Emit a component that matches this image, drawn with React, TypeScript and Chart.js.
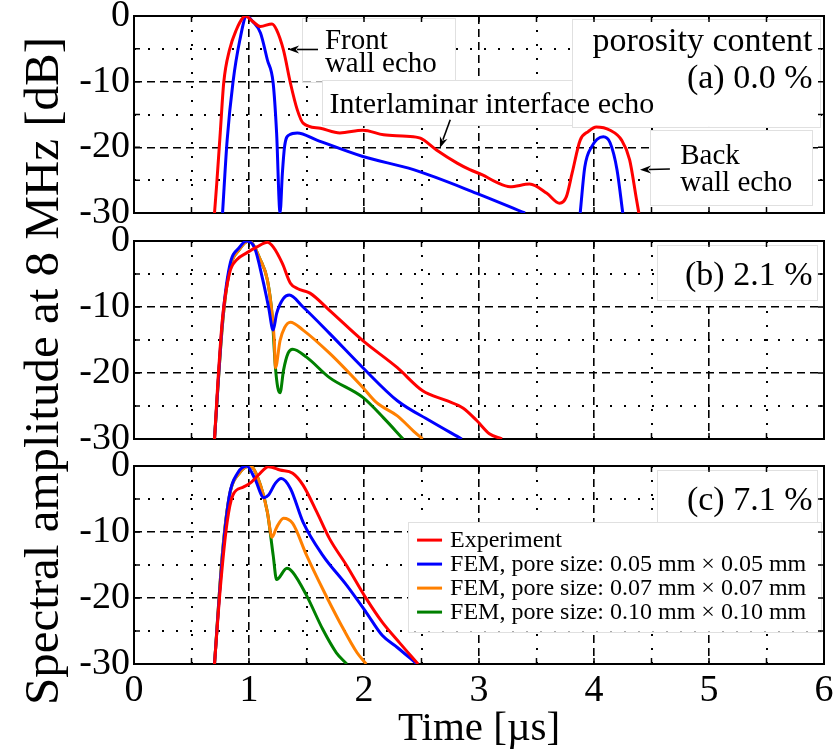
import React, { useEffect, useRef } from 'react';
import { Chart, registerables } from 'chart.js';

Chart.register(...registerables);

const SERIF = '"Liberation Serif", "Times New Roman", Times, serif';

// ---- axes ----
const timeMajor = [0, 1, 2, 3, 4, 5, 6];
const timeMinor = [0.5, 1.5, 2.5, 3.5, 4.5, 5.5];
const dbMajor = [-30, -20, -10, 0];
const dbMinor = [-25, -15, -5];
const xTitle = 'Time [µs]';
const yTitle = 'Spectral amplitude at 8 MHz [dB]';

// ---- series ----
const seriesLabels = [
  'Experiment',
  'FEM, pore size: 0.05 mm × 0.05 mm',
  'FEM, pore size: 0.07 mm × 0.07 mm',
  'FEM, pore size: 0.10 mm × 0.10 mm',
];
const seriesColors = ['#ff0000', '#0000ff', '#ff8000', '#008000'];
const panelLabels = ['(a) 0.0 %', '(b) 2.1 %', '(c) 7.1 %'];

// panel (a) 0.0 %
const aExpT = [0.70, 0.72, 0.75, 0.78, 0.83, 0.89, 0.95, 0.97, 1.03, 1.10, 1.20, 1.24, 1.30, 1.36, 1.42, 1.47, 1.62, 1.79, 1.99, 2.17, 2.37, 2.49, 2.63, 2.81, 2.92, 3.03, 3.15, 3.27, 3.44, 3.59, 3.70, 3.76, 3.81, 3.88, 3.95, 4.02, 4.14, 4.24, 4.31, 4.37, 4.39];
const aExpDb = [-30, -25.4, -17.8, -10.2, -5.2, -2.1, -0.2, 0, -0.8, -1.6, -1.2, -2.1, -5.2, -10.2, -14.3, -16.3, -17.1, -17.8, -17.4, -18.1, -18.3, -18.6, -20.4, -22.4, -23.4, -24.2, -25.3, -26.0, -25.6, -27.0, -28.5, -27.5, -23.9, -18.9, -17.6, -16.9, -17.4, -18.9, -21.9, -28.0, -30];
const aFem05T = [0.77, 0.81, 0.86, 0.92, 0.98, 1.03, 1.10, 1.16, 1.21, 1.24, 1.27, 1.29, 1.31, 1.35, 1.42, 1.59, 1.99, 2.43, 2.98, 3.40, 3.64, 3.88, 3.92, 3.98, 4.08, 4.14, 4.20, 4.25];
const aFem05Db = [-30, -18.9, -10.2, -3.7, 0, -0.8, -2.6, -6.7, -10.2, -17.8, -30, -24.0, -19.8, -18.1, -17.8, -18.9, -21.4, -23.4, -27.0, -30, null, -30, -23.0, -19.9, -18.4, -19.3, -23.4, -30];

// panel (b) 2.1 %
const bExpT = [0.70, 0.73, 0.77, 0.83, 0.89, 0.98, 1.07, 1.16, 1.21, 1.29, 1.36, 1.42, 1.53, 1.70, 1.99, 2.29, 2.51, 2.72, 2.86, 2.98, 3.09, 3.20];
const bExpDb = [-30, -21.2, -11.6, -4.9, -2.9, -1.8, -0.9, -0.2, -0.9, -3.4, -6.4, -7.2, -7.9, -10.5, -15.1, -19.2, -22.7, -24.2, -25.3, -27.2, -29.2, -30];
const bFem05T = [0.70, 0.77, 0.83, 0.92, 0.98, 1.05, 1.12, 1.17, 1.21, 1.24, 1.30, 1.35, 1.47, 1.70, 1.99, 2.29, 2.57, 2.85];
const bFem05Db = [-30, -12.0, -3.9, -0.9, 0, -1.1, -5.9, -10.0, -13.5, -11.0, -8.7, -8.2, -10.0, -14.0, -19.2, -24.2, -27.2, -30];
const bFem07T = [0.70, 0.77, 0.83, 0.92, 1.00, 1.10, 1.16, 1.20, 1.22, 1.23, 1.27, 1.31, 1.36, 1.47, 1.70, 1.99, 2.11, 2.29, 2.43, 2.51];
const bFem07Db = [-30, -12.5, -4.5, -1.2, 0, -2.9, -5.9, -11.0, -15.1, -19.2, -15.1, -13.1, -12.3, -13.5, -17.0, -22.2, -24.5, -26.5, -28.8, -30];
const bFem10T = [0.70, 0.77, 0.83, 0.92, 1.00, 1.10, 1.16, 1.20, 1.23, 1.25, 1.27, 1.30, 1.34, 1.38, 1.50, 1.70, 1.99, 2.17, 2.34];
const bFem10Db = [-30, -12.5, -4.5, -1.2, 0, -2.9, -5.9, -11.0, -19.2, -22.2, -23.0, -19.6, -17.0, -16.4, -17.6, -20.7, -23.7, -26.8, -30];

// panel (c) 7.1 %
const cExpT = [0.70, 0.75, 0.81, 0.86, 0.95, 1.01, 1.08, 1.17, 1.27, 1.38, 1.47, 1.59, 1.70, 1.85, 2.02, 2.16, 2.31, 2.47];
const cExpDb = [-30, -18.6, -8.5, -4.4, -3.2, -2.6, -1.4, -0.1, -0.6, -1.1, -2.9, -7.0, -11.0, -15.1, -20.1, -23.7, -26.8, -30];
const cFem05T = [0.70, 0.77, 0.83, 0.90, 0.98, 1.05, 1.13, 1.17, 1.23, 1.28, 1.36, 1.47, 1.64, 1.85, 2.02, 2.16, 2.29, 2.46];
const cFem05Db = [-30, -13.5, -4.4, -1.1, 0, -1.9, -4.8, -4.4, -2.6, -1.9, -3.4, -8.5, -13.5, -18.1, -22.2, -25.7, -27.5, -30];
const cFem07T = [0.70, 0.77, 0.83, 0.92, 1.01, 1.10, 1.16, 1.20, 1.24, 1.30, 1.38, 1.50, 1.64, 1.79, 1.94, 2.02];
const cFem07Db = [-30, -13.0, -4.5, -1.0, 0, -2.9, -7.0, -10.8, -9.3, -7.9, -8.7, -13.5, -18.6, -23.7, -28.3, -30];
const cFem10T = [0.70, 0.77, 0.83, 0.92, 1.01, 1.10, 1.16, 1.21, 1.24, 1.33, 1.38, 1.50, 1.64, 1.76, 1.85];
const cFem10Db = [-30, -13.0, -4.5, -1.0, 0, -2.9, -7.0, -13.5, -17.2, -15.5, -16.1, -19.6, -24.7, -28.3, -30];

// ---- decorations (in data units of each panel) ----
type Box = { t0: number; t1: number; d0: number; d1: number };
type Txt = { s: string; t: number; d: number; size: number; align: 'left' | 'right' };
type Arrow = { t0: number; d0: number; t1: number; d1: number };

type PanelCfg = {
  key: string;
  top: number;
  bottom: number;
  series: { t: number[]; db: (number | null)[]; k: number }[];
  boxes: Box[];
  texts: Txt[];
  arrows: Arrow[];
  legend?: Box;
  xLabels: boolean;
  yTitle: boolean;
};

const panels: PanelCfg[] = [
  {
    key: 'a', top: 16, bottom: 213,
    series: [{ t: aExpT, db: aExpDb, k: 0 }, { t: aFem05T, db: aFem05Db, k: 1 }],
    boxes: [
      { t0: 1.46, t1: 2.79, d0: -0.3, d1: -10.0 },
      { t0: 1.635, t1: 4.59, d0: -9.75, d1: -16.6 },
      { t0: 3.81, t1: 5.965, d0: -0.45, d1: -16.9 },
      { t0: 4.49, t1: 5.9, d0: -17.4, d1: -28.8 },
    ],
    texts: [
      { s: 'Front', t: 1.66, d: -5.0, size: 29, align: 'left' },
      { s: 'wall echo', t: 1.66, d: -8.6, size: 29, align: 'left' },
      { s: 'Interlaminar interface echo', t: 1.70, d: -14.7, size: 30, align: 'left' },
      { s: 'porosity content', t: 5.9, d: -5.4, size: 34, align: 'right' },
      { s: panelLabels[0], t: 5.9, d: -10.9, size: 34, align: 'right' },
      { s: 'Back', t: 4.75, d: -22.6, size: 29, align: 'left' },
      { s: 'wall echo', t: 4.75, d: -26.7, size: 29, align: 'left' },
    ],
    arrows: [
      { t0: 1.60, d0: -5.1, t1: 1.34, d1: -5.1 },
      { t0: 2.75, d0: -15.8, t1: 2.66, d1: -20.1 },
      { t0: 4.66, d0: -23.3, t1: 4.40, d1: -23.4 },
    ],
    xLabels: false, yTitle: true,
  },
  {
    key: 'b', top: 241, bottom: 439,
    series: [
      { t: bExpT, db: bExpDb, k: 0 }, { t: bFem05T, db: bFem05Db, k: 1 },
      { t: bFem07T, db: bFem07Db, k: 2 }, { t: bFem10T, db: bFem10Db, k: 3 },
    ],
    boxes: [{ t0: 4.55, t1: 5.94, d0: -0.6, d1: -9.0 }],
    texts: [{ s: panelLabels[1], t: 5.9, d: -6.7, size: 34, align: 'right' }],
    arrows: [],
    xLabels: false, yTitle: false,
  },
  {
    key: 'c', top: 466, bottom: 664,
    series: [
      { t: cExpT, db: cExpDb, k: 0 }, { t: cFem05T, db: cFem05Db, k: 1 },
      { t: cFem07T, db: cFem07Db, k: 2 }, { t: cFem10T, db: cFem10Db, k: 3 },
    ],
    boxes: [{ t0: 4.55, t1: 5.94, d0: -0.6, d1: -9.0 }],
    texts: [{ s: panelLabels[2], t: 5.9, d: -6.7, size: 34, align: 'right' }],
    arrows: [],
    legend: { t0: 2.383, t1: 5.97, d0: -8.5, d1: -25.1 },
    xLabels: true, yTitle: false,
  },
];

const W = 840;
const H = 756;
const LEFT = 134;
const RIGHT_PAD = 16;

function makeDecor(p: PanelCfg) {
  return {
    id: 'decor_' + p.key,
    beforeDatasetsDraw(chart: any) {
      const { ctx, chartArea: a, scales } = chart;
      const X = (t: number) => scales.x.getPixelForValue(t);
      const Y = (d: number) => scales.y.getPixelForValue(d);
      ctx.save();
      ctx.setLineDash([]);
      // white label boxes
      const allBoxes = p.legend ? [...p.boxes, p.legend] : p.boxes;
      for (const b of allBoxes) {
        const x0 = X(b.t0), x1 = X(b.t1), y0 = Y(b.d0), y1 = Y(b.d1);
        ctx.fillStyle = '#ffffff';
        ctx.fillRect(x0, y0, x1 - x0, y1 - y0);
        ctx.strokeStyle = '#e0e0e0';
        ctx.lineWidth = 1;
        ctx.strokeRect(Math.round(x0) + 0.5, Math.round(y0) + 0.5, Math.round(x1 - x0), Math.round(y1 - y0));
      }
      // frame
      ctx.strokeStyle = '#000';
      ctx.lineWidth = 2;
      ctx.strokeRect(a.left, a.top, a.right - a.left, a.bottom - a.top);
      // inner ticks
      ctx.lineWidth = 1.5;
      ctx.beginPath();
      for (const t of [...timeMajor, ...timeMinor]) {
        const x = X(t);
        ctx.moveTo(x, a.bottom); ctx.lineTo(x, a.bottom - 6);
        ctx.moveTo(x, a.top); ctx.lineTo(x, a.top + 6);
      }
      for (const d of [...dbMajor, ...dbMinor]) {
        const y = Y(d);
        ctx.moveTo(a.left, y); ctx.lineTo(a.left + 6, y);
        ctx.moveTo(a.right, y); ctx.lineTo(a.right - 6, y);
      }
      ctx.stroke();
      // texts
      ctx.fillStyle = '#000';
      ctx.textBaseline = 'alphabetic';
      for (const tx of p.texts) {
        ctx.font = `${tx.size}px ${SERIF}`;
        ctx.textAlign = tx.align;
        ctx.fillText(tx.s, X(tx.t), Y(tx.d));
      }
      // arrows
      for (const ar of p.arrows) {
        const x0 = X(ar.t0), y0 = Y(ar.d0), x1 = X(ar.t1), y1 = Y(ar.d1);
        const ang = Math.atan2(y1 - y0, x1 - x0);
        const hl = 11, hw = 4;
        ctx.strokeStyle = '#000';
        ctx.lineWidth = 1.6;
        ctx.beginPath();
        ctx.moveTo(x0, y0);
        ctx.lineTo(x1 - Math.cos(ang) * hl * 0.8, y1 - Math.sin(ang) * hl * 0.8);
        ctx.stroke();
        ctx.beginPath();
        ctx.moveTo(x1, y1);
        ctx.lineTo(x1 - Math.cos(ang) * hl - Math.sin(ang) * hw, y1 - Math.sin(ang) * hl + Math.cos(ang) * hw);
        ctx.lineTo(x1 - Math.cos(ang) * hl * 0.7, y1 - Math.sin(ang) * hl * 0.7);
        ctx.lineTo(x1 - Math.cos(ang) * hl + Math.sin(ang) * hw, y1 - Math.sin(ang) * hl - Math.cos(ang) * hw);
        ctx.closePath();
        ctx.fillStyle = '#000';
        ctx.fill();
      }
      // legend
      if (p.legend) {
        const lx = X(p.legend.t0);
        const ly = Y(p.legend.d0);
        ctx.font = `24px ${SERIF}`;
        ctx.textAlign = 'left';
        ctx.textBaseline = 'middle';
        chart.data.datasets.forEach((ds: any, i: number) => {
          const y = ly + 18 + i * 24;
          ctx.strokeStyle = ds.borderColor;
          ctx.lineWidth = 3;
          ctx.beginPath();
          ctx.moveTo(lx + 9, y);
          ctx.lineTo(lx + 34, y);
          ctx.stroke();
          ctx.fillStyle = '#000';
          ctx.fillText(ds.label, lx + 42, y + 1);
        });
      }
      // shared y title
      if (p.yTitle) {
        ctx.save();
        ctx.translate(58, 371);
        ctx.rotate(-Math.PI / 2);
        ctx.font = `49px ${SERIF}`;
        ctx.textAlign = 'center';
        ctx.textBaseline = 'alphabetic';
        ctx.fillStyle = '#000';
        ctx.fillText(yTitle, 0, 0);
        ctx.restore();
      }
      ctx.restore();
    },
  };
}

function buildChart(canvas: HTMLCanvasElement, p: PanelCfg) {
  const datasets = p.series.map((s) => ({
    label: seriesLabels[s.k],
    data: s.t.map((t, i) => ({ x: t, y: s.db[i] })),
    borderColor: seriesColors[s.k],
    backgroundColor: seriesColors[s.k],
    borderWidth: 3,
    pointRadius: 0,
    fill: false,
    spanGaps: false,
    cubicInterpolationMode: 'monotone' as const,
    xAxisID: 'x',
    yAxisID: 'y',
  }));

  const setTicks = (vals: number[]) => (s: any) => {
    s.ticks = vals.map((v) => ({ value: v }));
  };
  const noPad = (s: any) => {
    s.paddingLeft = 0; s.paddingRight = 0; s.paddingTop = 0; s.paddingBottom = 0;
  };
  const xH = p.xLabels ? H - p.bottom : 0;

  return new Chart(canvas, {
    type: 'line',
    data: { datasets },
    plugins: [makeDecor(p)],
    options: {
      responsive: false,
      animation: false,
      events: [],
      layout: {
        padding: { left: 0, right: RIGHT_PAD, top: p.top, bottom: p.xLabels ? 0 : H - p.bottom },
      },
      plugins: { legend: { display: false }, tooltip: { enabled: false }, title: { display: false } },
      scales: {
        x: {
          type: 'linear', position: 'bottom', min: 0, max: 6,
          afterBuildTicks: setTicks(timeMajor),
          afterFit: (s: any) => { s.height = xH; noPad(s); },
          ticks: {
            display: p.xLabels, autoSkip: false, maxRotation: 0, padding: 4, color: '#000',
            font: { family: SERIF, size: 38 }, callback: (v: any) => String(v),
          },
          grid: { color: '#000', lineWidth: 1.6, drawTicks: false },
          border: { display: false, dash: [8, 5] },
          title: {
            display: p.xLabels, text: xTitle, color: '#000',
            font: { family: SERIF, size: 41 }, padding: { top: 0, bottom: 2 },
          },
        },
        xm: {
          type: 'linear', position: 'bottom', min: 0, max: 6,
          afterBuildTicks: setTicks(timeMinor),
          afterFit: (s: any) => { s.height = 0; noPad(s); },
          ticks: { display: false },
          grid: { color: '#000', lineWidth: 2, drawTicks: false },
          border: { display: false, dash: [2, 12] },
        },
        y: {
          type: 'linear', position: 'left', min: -30, max: 0,
          afterBuildTicks: setTicks(dbMajor),
          afterFit: (s: any) => { s.width = LEFT; noPad(s); },
          ticks: {
            color: '#000', padding: 4, font: { family: SERIF, size: 38 },
            callback: (v: any) => String(v),
          },
          grid: { color: '#000', lineWidth: 1.6, drawTicks: false },
          border: { display: false, dash: [8, 5] },
        },
        ym: {
          type: 'linear', position: 'left', min: -30, max: 0,
          afterBuildTicks: setTicks(dbMinor),
          afterFit: (s: any) => { s.width = 0; noPad(s); },
          ticks: { display: false },
          grid: { color: '#000', lineWidth: 2, drawTicks: false },
          border: { display: false, dash: [2, 12] },
        },
      },
    } as any,
  });
}

export default function App() {
  const refs = [useRef<HTMLCanvasElement>(null), useRef<HTMLCanvasElement>(null), useRef<HTMLCanvasElement>(null)];

  useEffect(() => {
    const charts = panels.map((p, i) => buildChart(refs[i].current as HTMLCanvasElement, p));
    return () => charts.forEach((c) => c.destroy());
  }, []);

  return (
    <div style={{ position: 'fixed', left: 0, top: 0, width: W, height: H, background: '#fff' }}>
      {panels.map((p, i) => (
        <canvas
          key={p.key}
          ref={refs[i]}
          width={W}
          height={H}
          style={{ position: 'absolute', left: 0, top: 0, width: W, height: H }}
        />
      ))}
    </div>
  );
}
